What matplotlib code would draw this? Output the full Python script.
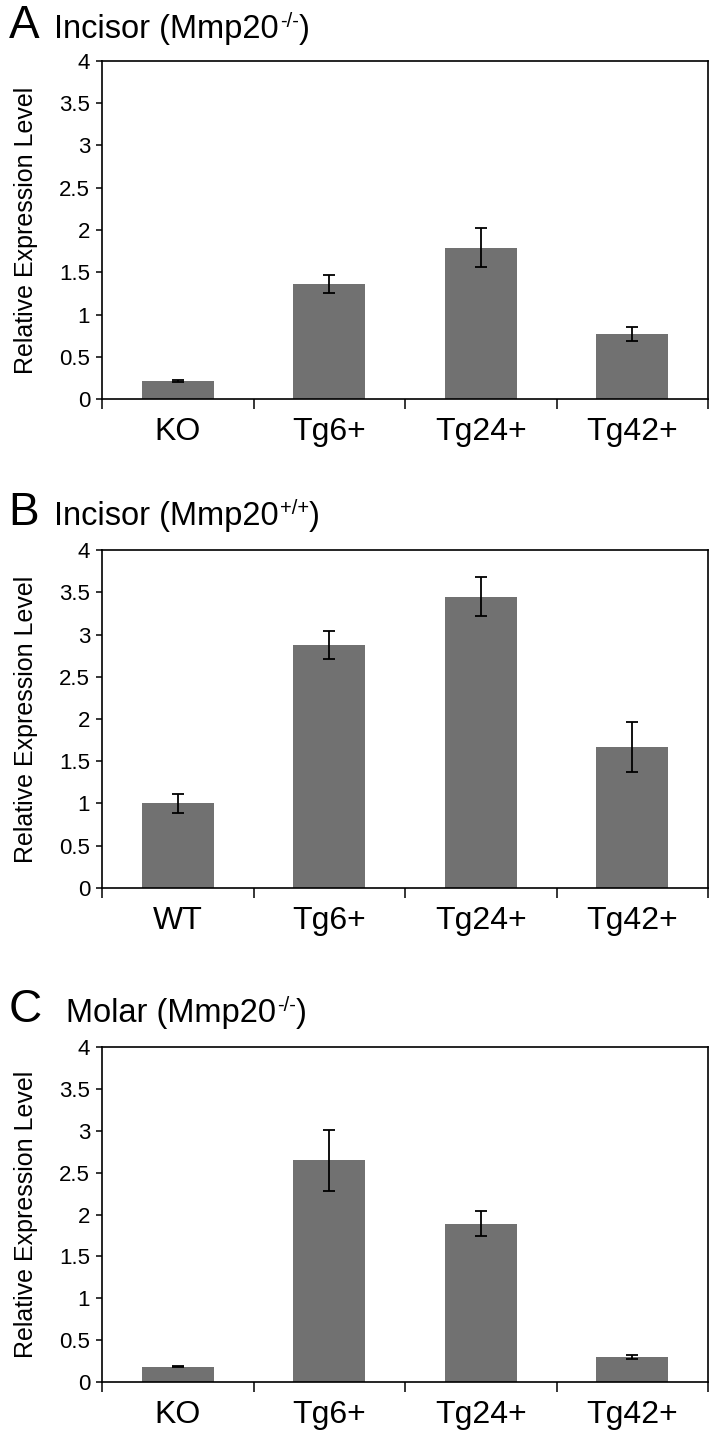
import matplotlib
matplotlib.use("Agg")
import matplotlib.pyplot as plt
from matplotlib.transforms import offset_copy

plt.rcParams['font.family'] = ['Liberation Sans', 'DejaVu Sans']

# panel A: incisor, Mmp20 -/-
cats_a = ["KO", "Tg6+", "Tg24+", "Tg42+"]
vals_a = [0.21, 1.36, 1.79, 0.77]
errs_a = [0.01, 0.11, 0.23, 0.085]

# panel B: incisor, Mmp20 +/+
cats_b = ["WT", "Tg6+", "Tg24+", "Tg42+"]
vals_b = [1.00, 2.88, 3.45, 1.67]
errs_b = [0.115, 0.165, 0.23, 0.295]

# panel C: molar, Mmp20 -/-
cats_c = ["KO", "Tg6+", "Tg24+", "Tg42+"]
vals_c = [0.18, 2.65, 1.89, 0.30]
errs_c = [0.006, 0.365, 0.15, 0.02]

y_ticks = [0, 0.5, 1, 1.5, 2, 2.5, 3, 3.5, 4]
y_tick_labels = ["0", "0.5", "1", "1.5", "2", "2.5", "3", "3.5", "4"]

BAR_COLOR = "#717171"


def draw_panel(fig, rect, cats, vals, errs):
    ax = fig.add_axes(rect)
    x = list(range(len(cats)))
    ax.bar(x, vals, width=0.475, color=BAR_COLOR, zorder=2)
    ax.errorbar(x, vals, yerr=errs, fmt="none", ecolor="black",
                elinewidth=1.3, capsize=4.5, capthick=1.3, zorder=3)
    ax.set_xlim(-0.5, len(cats) - 0.5)
    ax.set_ylim(0, 4)
    ax.set_yticks(y_ticks)
    ax.set_yticklabels(y_tick_labels)
    ax.set_xticks(x)
    ax.set_xticklabels(cats)
    ax.set_xticks([i - 0.5 for i in range(len(cats) + 1)], minor=True)
    ax.tick_params(axis="x", which="major", length=0, labelsize=23, pad=13)
    ax.tick_params(axis="x", which="minor", length=7, width=1.1, direction="out")
    ax.tick_params(axis="y", length=4.5, width=1.1, direction="out",
                   labelsize=16, pad=4)
    for sp in ax.spines.values():
        sp.set_linewidth(1.2)
    ax.set_ylabel("Relative Expression Level", fontsize=18, labelpad=15)
    return ax


def draw_title(fig, letter, x_text, y, name, sup):
    fig.text(0.012, y, letter, fontsize=33, va="baseline")
    t = fig.text(x_text, y, name + " (Mmp20", fontsize=23.5, va="baseline")
    fig.canvas.draw()
    ext = t.get_window_extent()
    x0 = ext.x1 / fig.bbox.width
    tr = offset_copy(fig.transFigure, fig=fig, x=1, y=11, units="dots")
    s = fig.text(x0, y, sup, fontsize=14.5, va="baseline", transform=tr)
    fig.canvas.draw()
    x1 = s.get_window_extent().x1 / fig.bbox.width
    fig.text(x1, y, ")", fontsize=23.5, va="baseline")


fig = plt.figure(figsize=(7.15, 14.38), dpi=100)

draw_panel(fig, [0.1427, 0.7225, 0.8475, 0.2351], cats_a, vals_a, errs_a)
draw_panel(fig, [0.1427, 0.3825, 0.8475, 0.2350], cats_b, vals_b, errs_b)
draw_panel(fig, [0.1427, 0.0389, 0.8475, 0.2330], cats_c, vals_c, errs_c)

draw_title(fig, "A", 0.076, 0.9736, "Incisor", "-/-")
draw_title(fig, "B", 0.076, 0.6349, "Incisor", "+/+")
draw_title(fig, "C", 0.092, 0.2893, "Molar", "-/-")

fig.savefig("out.png", dpi=100)
